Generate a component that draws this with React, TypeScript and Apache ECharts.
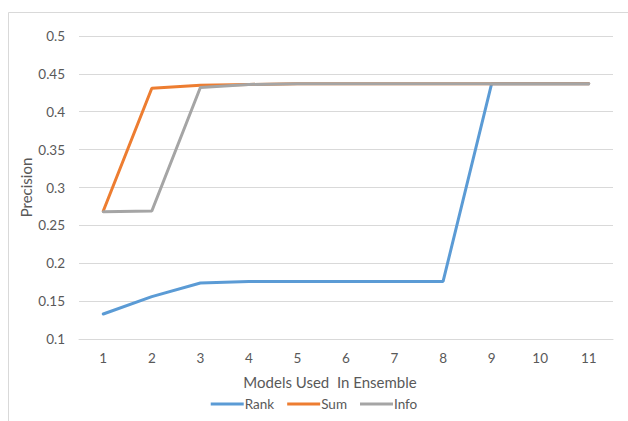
import React, { useEffect, useRef } from "react";
import * as echarts from "echarts";

const categories = ["1", "2", "3", "4", "5", "6", "7", "8", "9", "10", "11"];
const rankValues = [0.133, 0.156, 0.174, 0.176, 0.176, 0.176, 0.176, 0.176, 0.437, 0.437, 0.437];
const sumValues = [0.269, 0.431, 0.435, 0.436, 0.437, 0.437, 0.437, 0.437, 0.437, 0.437, 0.437];
const infoValues = [0.268, 0.269, 0.432, 0.436, 0.437, 0.437, 0.437, 0.437, 0.437, 0.437, 0.437];
const seriesNames = ["Rank", "Sum", "Info"];
const colors = ["#5B9BD5", "#ED7D31", "#A5A5A5"];

const FONT = "Lato, 'Open Sans', sans-serif";

export default function App() {
  const ref = useRef<HTMLDivElement>(null);
  useEffect(() => {
    if (!ref.current) return;
    const chart = echarts.init(ref.current, undefined, { renderer: "svg" });
    const values = [rankValues, sumValues, infoValues];
    chart.setOption({
      animation: false,
      backgroundColor: "#ffffff",
      textStyle: { fontFamily: FONT },
      graphic: [
        {
          type: "rect",
          shape: { x: 8.5, y: 12.5, width: 640, height: 420 },
          style: { fill: "none", stroke: "#d9d9d9", lineWidth: 1 },
          silent: true,
        },
      ],
      grid: { left: 79, right: 15, top: 36, bottom: 82, containLabel: false },
      legend: {
        bottom: 5,
        left: "center",
        icon: "rect",
        itemWidth: 33,
        itemHeight: 3,
        itemGap: 13,
        textStyle: { color: "#595959", fontSize: 13.5, fontFamily: FONT, padding: [0, 0, 0, -4] },
        data: seriesNames,
      },
      xAxis: {
        type: "category",
        data: categories,
        boundaryGap: true,
        name: "Models Used  In Ensemble",
        nameLocation: "middle",
        nameGap: 35,
        nameMoveOverlap: false,
        nameTextStyle: { color: "#595959", fontSize: 15, fontFamily: FONT, padding: [0, 32, 0, 0] },
        axisLine: { show: true, lineStyle: { color: "#d9d9d9" } },
        axisTick: { show: false },
        axisLabel: { color: "#595959", fontSize: 13.5, margin: 12, fontFamily: FONT },
      },
      yAxis: {
        type: "value",
        min: 0.1,
        max: 0.5,
        interval: 0.05,
        name: "Precision",
        nameLocation: "middle",
        nameGap: 46,
        nameMoveOverlap: false,
        nameRotate: 90,
        nameTextStyle: { color: "#595959", fontSize: 15, fontFamily: FONT },
        axisLine: { show: false },
        axisTick: { show: false },
        axisLabel: {
          color: "#595959",
          fontSize: 13.5,
          margin: 14,
          fontFamily: FONT,
          formatter: (v: number) => String(parseFloat(v.toFixed(2))),
        },
        splitLine: { lineStyle: { color: "#d9d9d9", width: 1 } },
      },
      series: seriesNames.map((name, i) => ({
        name,
        type: "line",
        data: values[i],
        symbol: "none",
        lineStyle: { color: colors[i], width: 3, cap: "round" },
        itemStyle: { color: colors[i] },
      })),
    });
    return () => chart.dispose();
  }, []);
  return (
    <div
      ref={ref}
      style={{ position: "absolute", left: 0, top: 0, width: 628, height: 421 }}
    />
  );
}
